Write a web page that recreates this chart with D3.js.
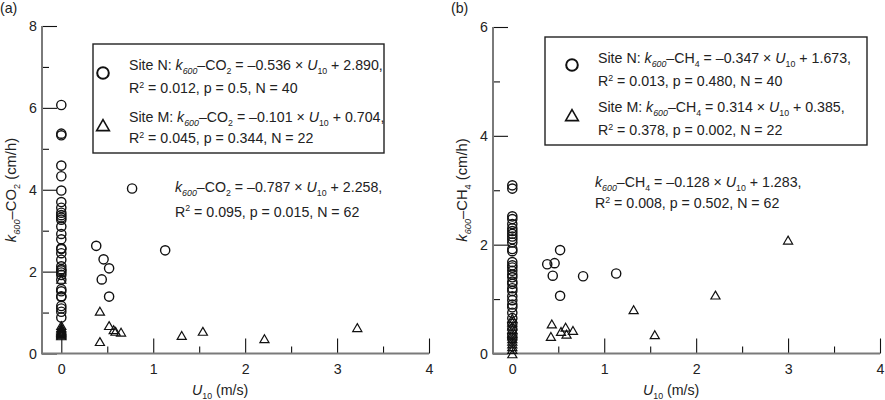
<!DOCTYPE html>
<html>
<head>
<meta charset="utf-8">
<script src="https://cdn.jsdelivr.net/npm/d3@7"></script>
<style>
  body { margin: 0; background: #fff; }
  svg { font-family: "Liberation Sans", Arial, Helvetica, sans-serif; }
  text { white-space: pre; }
</style>
</head>
<body>
<svg id="chart" width="885" height="400"></svg>
<script>
// wind speed U10 (m/s) per sampling event
const siteN_U10 = [
  0, 0, 0, 0, 0, 0, 0, 0, 0, 0, 0,
  0, 0, 0, 0, 0, 0, 0, 0, 0, 0, 0,
  0, 0, 0, 0, 0, 0, 0, 0, 0, 0, 0,
  0.38, 0.46, 0.52, 0.44, 0.52, 0.77, 1.13
]
const siteN_CO2 = [
  6.07, 5.37, 5.33, 4.59, 4.33, 3.98, 3.70, 3.56, 3.44, 3.38, 3.32,
  3.27, 3.10, 2.92, 2.79, 2.57, 2.55, 2.45, 2.29, 2.13, 2.06, 2.03,
  1.98, 1.92, 1.80, 1.57, 1.52, 1.40, 1.38, 1.16, 1.10, 1.02, 0.88,
  2.63, 2.30, 2.08, 1.81, 1.39, 4.03, 2.52
]
const siteN_CH4 = [
  3.09, 3.03, 2.52, 2.47, 2.38, 2.30, 2.25, 2.20, 2.15, 2.10, 2.04,
  1.92, 1.88, 1.68, 1.62, 1.58, 1.52, 1.45, 1.40, 1.32, 1.28, 1.20,
  1.15, 1.05, 0.98, 0.90, 0.85, 0.75, 0.65, 0.55, 0.45, 0.35, 0.28,
  1.64, 1.66, 1.90, 1.43, 1.06, 1.42, 1.47
]

// site M, as plotted in panel (a) and panel (b)
const siteM_U10a = [
  0, 0, 0, 0, 0, 0, 0, 0, 0, 0, 0, 0,
  0.42, 0.42, 0.52, 0.57, 0.59, 0.65, 1.31, 1.54, 2.21, 3.22
]
const siteM_U10b = [
  0, 0, 0, 0, 0, 0, 0, 0, 0, 0, 0, 0,
  0.43, 0.42, 0.53, 0.58, 0.59, 0.66, 1.32, 1.55, 2.21, 3.0
]
const siteM_CO2 = [
  1.78, 0.65, 0.60, 0.57, 0.54, 0.52, 0.50, 0.48, 0.46, 0.44, 0.42, 0.40,
  1.00, 0.26, 0.65, 0.55, 0.51, 0.49, 0.41, 0.51, 0.33, 0.60
]
const siteM_CH4 = [
  0.62, 0.55, 0.48, 0.42, 0.35, 0.30, 0.25, 0.20, 0.15, 0.10, 0.05, -0.03,
  0.52, 0.29, 0.38, 0.46, 0.33, 0.40, 0.78, 0.32, 1.05, 2.06
]

const xTicks = [0, 1, 2, 3, 4]
const xMinorTicks = [0.5, 1.5, 2.5, 3.5]
const yTicksCO2 = [0, 2, 4, 6, 8]
const yMinorCO2 = [1, 3, 5, 7]
const yTicksCH4 = [0, 2, 4, 6]
const yMinorCH4 = [1, 3, 5]

// *x* italic, _{x} subscript, ^{x} superscript
const legendCO2 = [
  'Site N: *k*_{*600*}–CO_{2} = –0.536 × *U*_{10} + 2.890,',
  'R^{2} = 0.012, p = 0.5, N = 40',
  'Site M: *k*_{*600*}–CO_{2} = –0.101 × *U*_{10} + 0.704,',
  'R^{2} = 0.045, p = 0.344, N = 22'
]
const fitCO2 = [
  '*k*_{*600*}–CO_{2} = –0.787 × *U*_{10} + 2.258,',
  'R^{2} = 0.095, p = 0.015, N = 62'
]
const legendCH4 = [
  'Site N: *k*_{*600*}–CH_{4} = –0.347 × *U*_{10} + 1.673,',
  'R^{2} = 0.013, p = 0.480, N = 40',
  'Site M: *k*_{*600*}–CH_{4} = 0.314 × *U*_{10} + 0.385,',
  'R^{2} = 0.378, p = 0.002, N = 22'
]
const fitCH4 = [
  '*k*_{*600*}–CH_{4} = –0.128 × *U*_{10} + 1.283,',
  'R^{2} = 0.008, p = 0.502, N = 62'
]

const svg = d3.select('#chart')
const FS = 14.2
const ink = '#222'

function rich(g, x, y, str, size) {
  const t = g.append('text').attr('x', x).attr('y', y)
    .attr('font-size', size).attr('fill', ink)
  let shift = 0
  str.split(/(\*[^*]+\*|_\{[^}]+\}|\^\{[^}]+\})/).filter(s => s).forEach(s => {
    let txt = s, italic = false, small = false, target = 0
    if (s[0] === '*') { txt = s.slice(1, -1); italic = true }
    else if (s[0] === '_' || s[0] === '^') {
      txt = s.slice(2, -1); small = true
      target = s[0] === '_' ? size * 0.3 : -size * 0.38
      if (txt[0] === '*') { txt = txt.slice(1, -1); italic = true }
    }
    t.append('tspan')
      .attr('dy', target - shift)
      .attr('font-size', small ? size * 0.62 : size)
      .attr('font-style', italic ? 'italic' : null)
      .text(txt)
    shift = target
  })
  return t
}

const tri = (area) => d3.symbol(d3.symbolTriangle, area)()

function panel(p) {
  const g = svg.append('g')
  const x = d3.scaleLinear().domain([-0.21, 4]).range([p.left, p.left + 387])
  const y = d3.scaleLinear().domain([0, p.yMax]).range([353.5, p.top])

  const styleAxis = sel => {
    sel.select('.domain').remove()
    sel.selectAll('line').attr('stroke', '#111').attr('stroke-width', 1.1)
    sel.selectAll('text').attr('font-size', FS).attr('fill', ink)
      .attr('font-family', null)
  }

  g.append('g').attr('transform', `translate(0,${y(0)})`)
    .call(d3.axisBottom(x).tickValues(xTicks).tickSize(-15).tickPadding(10).tickFormat(d3.format('d')))
    .call(styleAxis)
  g.append('g').attr('transform', `translate(0,${y(0)})`)
    .call(d3.axisBottom(x).tickValues(xMinorTicks).tickSize(-7).tickFormat(''))
    .call(styleAxis)
  g.append('g').attr('transform', `translate(${x(-0.21)},0)`)
    .call(d3.axisLeft(y).tickValues(p.yTicks).tickSize(-15).tickPadding(5).tickFormat(d3.format('d')))
    .call(styleAxis)
  g.append('g').attr('transform', `translate(${x(-0.21)},0)`)
    .call(d3.axisLeft(y).tickValues(p.yMinor).tickSize(-7).tickFormat(''))
    .call(styleAxis)

  // axis lines
  g.append('line').attr('x1', x(-0.21)).attr('x2', x(4)).attr('y1', y(0)).attr('y2', y(0))
    .attr('stroke', '#7a7a7a').attr('stroke-width', 2)
  g.append('line').attr('x1', x(-0.21)).attr('x2', x(-0.21)).attr('y1', y(0) + 1).attr('y2', y(p.yMax))
    .attr('stroke', '#7a7a7a').attr('stroke-width', 2)

  // points
  g.append('g').selectAll('circle').data(d3.zip(siteN_U10, p.n)).join('circle')
    .attr('cx', d => x(d[0])).attr('cy', d => y(d[1])).attr('r', 4.6)
    .attr('fill', 'none').attr('stroke', '#111').attr('stroke-width', 1.4)
  g.append('g').selectAll('path').data(d3.zip(p.mu, p.m)).join('path')
    .attr('d', tri(36))
    .attr('transform', d => `translate(${x(d[0])},${y(d[1])})`)
    .attr('fill', 'none').attr('stroke', '#111').attr('stroke-width', 1.2)

  // legend box
  const lg = p.legend
  g.append('rect').attr('x', lg.x).attr('y', lg.y).attr('width', lg.w).attr('height', lg.h)
    .attr('fill', '#fff').attr('stroke', '#222').attr('stroke-width', 1.4)
  g.append('circle').attr('cx', lg.mx).attr('cy', lg.cy).attr('r', 5.8)
    .attr('fill', 'none').attr('stroke', '#111').attr('stroke-width', 2)
  g.append('path').attr('d', tri(70)).attr('transform', `translate(${lg.mx},${lg.ty})`)
    .attr('fill', 'none').attr('stroke', '#111').attr('stroke-width', 1.6)
  p.legendText.forEach((s, i) => rich(g, lg.tx, lg.lines[i], s, FS))

  p.fitText.forEach((s, i) => rich(g, p.fit.x, p.fit.lines[i], s, FS))

  // labels
  rich(g, p.left - 42, 13, p.tag, FS)
  rich(g, p.left + 150, 395, '*U*_{10} (m/s)', FS)
  rich(g, 0, 0, p.yLabel, FS + 0.6)
    .attr('text-anchor', 'middle')
    .attr('transform', `translate(${p.left - 26},190) rotate(-90)`)
    .attr('x', null).attr('y', null)
}

panel({
  left: 42, top: 26, yMax: 8, yTicks: yTicksCO2, yMinor: yMinorCO2,
  n: siteN_CO2, mu: siteM_U10a, m: siteM_CO2, tag: '(a)',
  yLabel: '*k*_{*600*}–CO_{2} (cm/h)',
  legendText: legendCO2, fitText: fitCO2,
  legend: { x: 93, y: 44, w: 291, h: 109, mx: 103, cy: 73, ty: 127, tx: 129, lines: [70, 93, 122, 143] },
  fit: { x: 175, lines: [191.5, 216.5] }
})

panel({
  left: 493, top: 27, yMax: 6, yTicks: yTicksCH4, yMinor: yMinorCH4,
  n: siteN_CH4, mu: siteM_U10b, m: siteM_CH4, tag: '(b)',
  yLabel: '*k*_{*600*}–CH_{4} (cm/h)',
  legendText: legendCH4, fitText: fitCH4,
  legend: { x: 545, y: 37, w: 322, h: 108, mx: 572, cy: 65, ty: 117, tx: 598, lines: [63, 86, 112, 135] },
  fit: { x: 595, lines: [187, 208] }
})
</script>
</body>
</html>
